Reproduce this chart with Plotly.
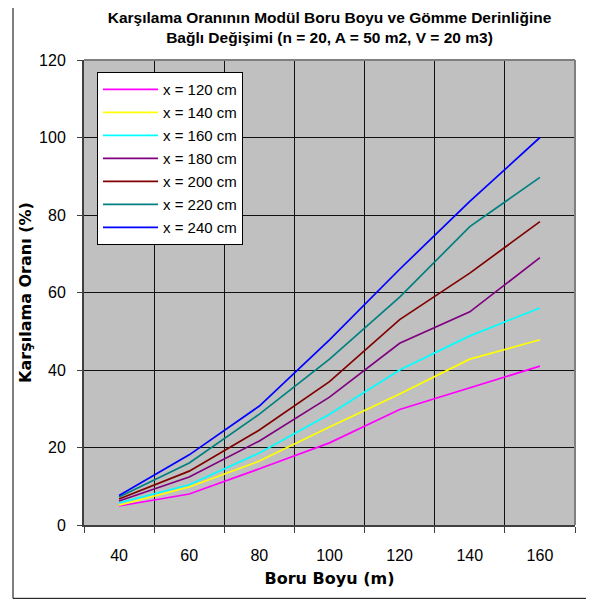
import plotly.graph_objects as go

boru_boyu = [40, 60, 80, 100, 120, 140, 160]
x120 = [4.9, 8.0, 14.5, 21.2, 29.8, 35.5, 41.0]
x140 = [5.1, 9.8, 16.5, 25.3, 33.8, 42.8, 47.8]
x160 = [5.7, 10.4, 18.6, 28.6, 40.0, 48.8, 56.0]
x180 = [6.2, 12.4, 21.7, 33.0, 46.9, 55.0, 69.0]
x200 = [6.7, 13.9, 24.5, 37.0, 53.0, 65.0, 78.3]
x220 = [7.2, 16.0, 28.6, 42.8, 58.8, 77.0, 89.7]
x240 = [7.6, 18.1, 30.7, 47.8, 66.0, 83.5, 100.0]

series_names = ["x = 120 cm", "x = 140 cm", "x = 160 cm", "x = 180 cm",
                "x = 200 cm", "x = 220 cm", "x = 240 cm"]
series_values = [x120, x140, x160, x180, x200, x220, x240]
colors = ["#FF00FF", "#FFFF00", "#00FFFF", "#800080", "#800000", "#008080", "#0000FF"]

y_ticks = [0, 20, 40, 60, 80, 100, 120]
FONT = "Liberation Sans, Arial, sans-serif"
TFONT = "DejaVu Sans, Liberation Sans, sans-serif"

fig = go.Figure()
for i, (name, vals, col) in enumerate(zip(series_names, series_values, colors)):
    fig.add_trace(go.Scatter(
        x=boru_boyu, y=vals, mode="lines", name=name,
        line=dict(color=col, width=1.7), legendgroup=f"g{i}",
    ))

# page body has an 8px margin; figure is sized/offset to compensate
fig.update_layout(
    width=586, height=595,
    margin=dict(l=76, r=19, t=52, b=78),
    paper_bgcolor="white",
    plot_bgcolor="#C0C0C0",
    font=dict(family=FONT, color="black"),
    title=dict(
        text="<b>Karşılama Oranının Modül Boru Boyu ve Gömme Derinliğine<br>Bağlı Değişimi (n = 20, A = 50 m2, V = 20 m3)</b>",
        x=0.5, xanchor="center", xref="paper",
        y=1 - 15 / 595, yanchor="middle", yref="container",
        font=dict(size=15.5, family=FONT),
    ),
    showlegend=True,
    legend=dict(
        x=0.0265, y=0.974, xanchor="left", yanchor="top",
        bgcolor="white", bordercolor="black", borderwidth=1,
        font=dict(size=15, family=FONT),
        tracegroupgap=0.5,
        itemwidth=55,
    ),
    xaxis=dict(
        range=[30, 170],
        tickvals=boru_boyu,
        ticktext=[str(v) for v in boru_boyu],
        ticks="",
        showgrid=False,
        zeroline=False,
        showline=True, linecolor="#404040", linewidth=2,
        tickfont=dict(size=16, family=FONT),
        ticklabelstandoff=15,
        minor=dict(tickvals=[30, 50, 70, 90, 110, 130, 150, 170],
                   showgrid=True, gridcolor="#111111", gridwidth=1,
                   ticks="outside", ticklen=6, tickcolor="#404040", tickwidth=1),
        title=dict(text="<b>Boru Boyu (m)</b>", font=dict(size=16, family=TFONT), standoff=10),
        fixedrange=True,
    ),
    yaxis=dict(
        range=[0, 120],
        tickvals=y_ticks,
        ticks="outside", ticklen=5, tickcolor="#404040",
        showgrid=True, gridcolor="#111111", gridwidth=1,
        zeroline=False,
        showline=True, linecolor="#404040", linewidth=2,
        tickfont=dict(size=16, family=FONT),
        ticklabelstandoff=8,
        title=dict(text="<b>Karşılama Oranı (%)</b>", font=dict(size=16, family=TFONT), standoff=3),
        fixedrange=True,
    ),
    shapes=[
        dict(type="rect", xref="paper", yref="paper",
             x0=-0.1446, x1=1.0305, y0=-0.1577, y1=1.1255,
             line=dict(color="black", width=1), layer="below"),
        dict(type="line", xref="paper", yref="paper", x0=0, x1=1, y0=1, y1=1,
             line=dict(color="#808080", width=2), layer="above"),
        dict(type="line", xref="paper", yref="paper", x0=1, x1=1, y0=0, y1=1,
             line=dict(color="#808080", width=2), layer="above"),
    ],
)

fig.write_html("out.html")
